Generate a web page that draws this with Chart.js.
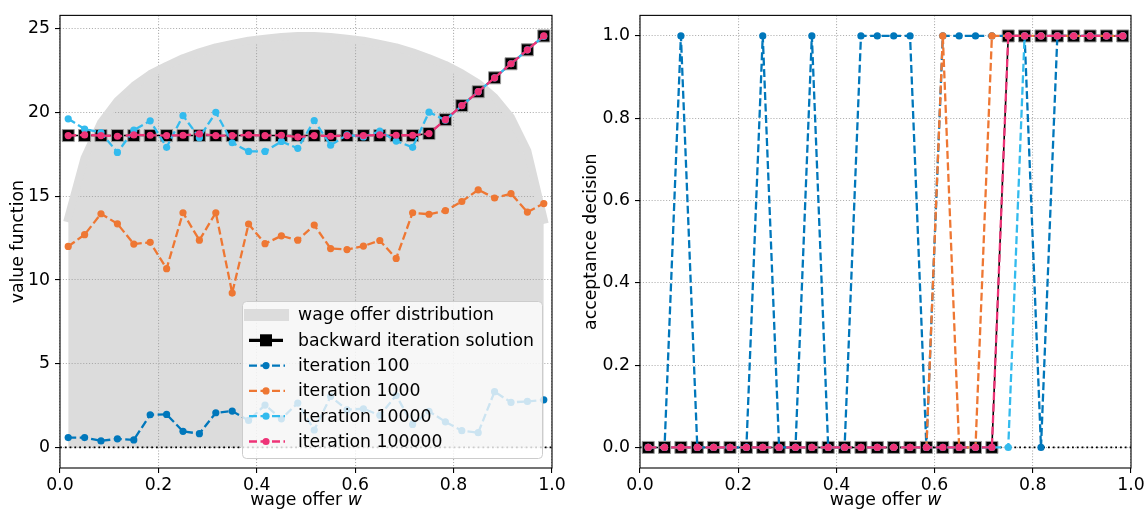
<!DOCTYPE html>
<html>
<head>
<meta charset="utf-8">
<script src="https://cdn.jsdelivr.net/npm/chart.js@4.4.1/dist/chart.umd.min.js"></script>
<style>
  body { margin: 0; background: #fff; }
  .panel { position: absolute; top: 0; width: 574px; height: 514px; }
</style>
</head>
<body>
<div class="panel" style="left:0"><canvas id="chart-value" width="574" height="514"></canvas></div>
<div class="panel" style="left:574px"><canvas id="chart-accept" width="574" height="514"></canvas></div>
<script>
// wage grid (30 offers)
const wageGrid = [0.0167, 0.05, 0.0833, 0.1167, 0.15, 0.1833, 0.2167, 0.25, 0.2833, 0.3167,
  0.35, 0.3833, 0.4167, 0.45, 0.4833, 0.5167, 0.55, 0.5833, 0.6167, 0.65,
  0.6833, 0.7167, 0.75, 0.7833, 0.8167, 0.85, 0.8833, 0.9167, 0.95, 0.9833];

// wage offer distribution, scaled to the value axis
const offerDist = [13.7, 17.3, 19.4, 20.7, 21.6, 22.3, 22.8, 23.25, 23.6, 23.9,
  24.1, 24.3, 24.42, 24.52, 24.58, 24.58, 24.52, 24.42, 24.3, 24.1,
  23.9, 23.6, 23.25, 22.85, 22.35, 21.75, 20.9, 19.7, 17.7, 13.6];

// value function
const valueBackward = [18.63, 18.63, 18.63, 18.63, 18.63, 18.63, 18.63, 18.63, 18.63, 18.63,
  18.63, 18.63, 18.63, 18.63, 18.63, 18.63, 18.63, 18.63, 18.63, 18.63,
  18.63, 18.63, 18.75, 19.58, 20.42, 21.25, 22.08, 22.92, 23.75, 24.58];
const valueIter100 = [0.59, 0.59, 0.39, 0.51, 0.45, 1.95, 1.97, 0.96, 0.82, 2.07,
  2.17, 1.61, 2.53, 1.71, 2.65, 1.04, 3.04, 2.25, 2.31, 1.92,
  3.10, 1.37, 2.16, 1.53, 1.00, 0.88, 3.33, 2.69, 2.75, 2.84];
const valueIter1000 = [12.01, 12.71, 13.96, 13.36, 12.15, 12.25, 10.68, 14.02, 12.38, 14.02,
  9.22, 13.34, 12.17, 12.64, 12.38, 13.28, 11.88, 11.82, 12.03, 12.36,
  11.29, 14.02, 13.93, 14.14, 14.69, 15.39, 14.90, 15.16, 14.06, 14.57];
const valueIter10000 = [19.63, 19.02, 18.81, 17.62, 18.96, 19.51, 17.93, 19.82, 18.50, 20.02,
  18.20, 17.68, 17.68, 18.28, 17.87, 19.53, 18.05, 18.67, 18.55, 18.89,
  18.30, 17.93, 20.03, 19.55, 20.42, 21.25, 22.08, 22.92, 23.75, 24.56];
const valueIter100000 = [18.63, 18.67, 18.63, 18.59, 18.67, 18.65, 18.63, 18.65, 18.73, 18.63,
  18.63, 18.67, 18.63, 18.65, 18.54, 18.63, 18.59, 18.63, 18.63, 18.67,
  18.65, 18.65, 18.75, 19.58, 20.42, 21.25, 22.08, 22.92, 23.75, 24.58];

// acceptance decision (0 = reject, 1 = accept)
const acceptBackward = [0, 0, 0, 0, 0, 0, 0, 0, 0, 0, 0, 0, 0, 0, 0, 0, 0, 0, 0, 0, 0, 0, 1, 1, 1, 1, 1, 1, 1, 1];
const acceptIter100 = [0, 0, 1, 0, 0, 0, 0, 1, 0, 0, 1, 0, 0, 1, 1, 1, 1, 0, 1, 1, 1, 1, 1, 1, 0, 1, 1, 1, 1, 1];
const acceptIter1000 = [0, 0, 0, 0, 0, 0, 0, 0, 0, 0, 0, 0, 0, 0, 0, 0, 0, 0, 1, 0, 0, 1, 1, 1, 1, 1, 1, 1, 1, 1];
const acceptIter10000 = [0, 0, 0, 0, 0, 0, 0, 0, 0, 0, 0, 0, 0, 0, 0, 0, 0, 0, 0, 0, 0, 0, 0, 1, 1, 1, 1, 1, 1, 1];
const acceptIter100000 = [0, 0, 0, 0, 0, 0, 0, 0, 0, 0, 0, 0, 0, 0, 0, 0, 0, 0, 0, 0, 0, 0, 1, 1, 1, 1, 1, 1, 1, 1];

const xTicks = [0, 0.2, 0.4, 0.6, 0.8, 1.0];
const seriesLabels = ['wage offer distribution', 'backward iteration solution',
  'iteration 100', 'iteration 1000', 'iteration 10000', 'iteration 100000'];

const FONT = 'DejaVu Sans';
const FS = 17.3;
const DIST_GRAY = '#dcdcdc';
const COLORS = { it100: '#0077bb', it1000: '#ee7733', it10000: '#33bbee', it100000: '#ee3377' };
const DASH = [8, 3.5];

Chart.defaults.font.family = FONT;
Chart.defaults.font.size = FS;
Chart.defaults.color = '#000';

const pts = (ys) => wageGrid.map((x, i) => ({ x, y: ys[i] }));

function iterDataset(label, ys, color, order) {
  return {
    label, data: pts(ys), order,
    borderColor: color, borderWidth: 2.3, borderDash: DASH,
    pointRadius: 3.6, pointBackgroundColor: color, pointBorderWidth: 0,
    pointHoverRadius: 3.6, tension: 0, fill: false
  };
}

function backwardDataset(ys) {
  return {
    label: seriesLabels[1], data: pts(ys), order: 4,
    borderColor: '#000', borderWidth: 1.6,
    pointStyle: 'rect', pointRadius: 8.5, pointHoverRadius: 8.5,
    pointBackgroundColor: '#000', pointBorderColor: '#9a9a9a', pointBorderWidth: 1,
    tension: 0, fill: false
  };
}

function zeroLine() {
  return {
    label: 'zero', data: [{ x: 0, y: 0 }, { x: 1, y: 0 }], order: 5,
    borderColor: '#000', borderWidth: 1.8, borderDash: [1.8, 3], pointRadius: 0, fill: false
  };
}

function xScale() {
  return {
    type: 'linear', min: 0, max: 1,
    afterBuildTicks: s => { s.ticks = xTicks.map(v => ({ value: v })); },
    afterFit: s => { s.height = 46; },
    ticks: { callback: v => v.toFixed(1), padding: 2, maxRotation: 0, color: '#000' },
    grid: { color: '#b0b0b0', lineWidth: 1.1, tickLength: 5, tickColor: '#000', tickWidth: 1.1, tickBorderDash: [] },
    border: { display: false, dash: [1.1, 1.8] }
  };
}

function yScale(min, max, step, fmt, leftWidth, title, titlePad) {
  return {
    type: 'linear', min, max,
    afterFit: s => { s.width = leftWidth; },
    ticks: { stepSize: step, includeBounds: false, callback: fmt, padding: 5, color: '#000' },
    grid: { color: '#b0b0b0', lineWidth: 1.1, tickLength: 5, tickColor: '#000', tickWidth: 1.1, tickBorderDash: [] },
    border: { display: false, dash: [1.1, 1.8] },
    title: { display: true, text: title, padding: { top: titlePad, bottom: 0 }, font: { size: FS } }
  };
}

const frame = {
  id: 'frame',
  afterDatasetsDraw(chart) {
    const { ctx, chartArea: a } = chart;
    ctx.save();
    ctx.strokeStyle = '#000';
    ctx.lineWidth = 1.1;
    ctx.strokeRect(a.left, a.top, a.right - a.left, a.bottom - a.top);
    ctx.restore();
  }
};

const xLabel = {
  id: 'xLabel',
  afterDraw(chart) {
    const { ctx, chartArea: a } = chart;
    const plain = 'wage offer ', ital = 'w';
    ctx.save();
    ctx.fillStyle = '#000';
    ctx.textBaseline = 'middle';
    ctx.textAlign = 'left';
    ctx.font = FS + 'px "' + FONT + '"';
    const w1 = ctx.measureText(plain).width;
    ctx.font = 'italic ' + FS + 'px "' + FONT + '"';
    const w2 = ctx.measureText(ital).width;
    const x0 = (a.left + a.right) / 2 - (w1 + w2) / 2;
    const y = 501;
    ctx.font = FS + 'px "' + FONT + '"';
    ctx.fillText(plain, x0, y);
    ctx.font = 'italic ' + FS + 'px "' + FONT + '"';
    ctx.fillText(ital, x0 + w1, y);
    ctx.restore();
  }
};

// legend drawn inside the value-function axes
const legendBox = {
  id: 'legendBox',
  afterDraw(chart) {
    const { ctx } = chart;
    const box = { x: 242, y: 301, w: 300, h: 157 };
    ctx.save();
    ctx.beginPath();
    ctx.roundRect(box.x + 0.5, box.y + 0.5, box.w, box.h, 4);
    ctx.fillStyle = 'rgba(255,255,255,0.8)';
    ctx.fill();
    ctx.strokeStyle = '#cccccc';
    ctx.lineWidth = 1;
    ctx.stroke();

    const rowY = [315, 340.3, 365.6, 390.9, 416.2, 441.5];
    const hx0 = 249, hx1 = 283, hmid = 266, tx = 298;
    ctx.font = FS + 'px "' + FONT + '"';
    ctx.textBaseline = 'middle';
    ctx.textAlign = 'left';

    seriesLabels.forEach((label, i) => {
      const y = rowY[i];
      if (i === 0) {
        ctx.fillStyle = DIST_GRAY;
        ctx.fillRect(244, y - 6, 45, 12);
      } else if (i === 1) {
        ctx.strokeStyle = '#000';
        ctx.lineWidth = 3.3;
        ctx.setLineDash([]);
        ctx.beginPath(); ctx.moveTo(hx0, y); ctx.lineTo(hx1, y); ctx.stroke();
        ctx.fillStyle = '#000';
        ctx.fillRect(hmid - 6, y - 6, 12, 12);
      } else {
        const color = [COLORS.it100, COLORS.it1000, COLORS.it10000, COLORS.it100000][i - 2];
        ctx.strokeStyle = color;
        ctx.lineWidth = 2.3;
        ctx.setLineDash(DASH);
        ctx.beginPath(); ctx.moveTo(hx0, y); ctx.lineTo(hx1 + 2, y); ctx.stroke();
        ctx.setLineDash([]);
        ctx.fillStyle = color;
        ctx.beginPath(); ctx.arc(hmid, y, 3.6, 0, Math.PI * 2); ctx.fill();
      }
      ctx.fillStyle = '#000';
      ctx.fillText(label, tx, y + 1);
    });
    ctx.restore();
  }
};

new Chart(document.getElementById('chart-value'), {
  type: 'line',
  data: {
    datasets: [
      iterDataset(seriesLabels[5], valueIter100000, COLORS.it100000, 0),
      iterDataset(seriesLabels[4], valueIter10000, COLORS.it10000, 1),
      iterDataset(seriesLabels[3], valueIter1000, COLORS.it1000, 2),
      iterDataset(seriesLabels[2], valueIter100, COLORS.it100, 3),
      backwardDataset(valueBackward),
      zeroLine(),
      {
        label: seriesLabels[0], data: pts(offerDist), order: 6,
        borderColor: DIST_GRAY, borderWidth: 8, borderCapStyle: 'square', borderJoinStyle: 'round',
        backgroundColor: 'rgba(160,160,160,0.37)', fill: 'origin', pointRadius: 0, tension: 0
      }
    ]
  },
  options: {
    responsive: false, animation: false, devicePixelRatio: 1,
    layout: { padding: { top: 6, right: 22, left: 0, bottom: 0 } },
    plugins: { legend: { display: false }, tooltip: { enabled: false } },
    scales: {
      x: xScale(),
      y: yScale(-1.23, 25.81, 5, v => String(v), 60, 'value function', 8)
    }
  },
  plugins: [frame, xLabel, legendBox]
});

new Chart(document.getElementById('chart-accept'), {
  type: 'line',
  data: {
    datasets: [
      iterDataset(seriesLabels[5], acceptIter100000, COLORS.it100000, 0),
      iterDataset(seriesLabels[4], acceptIter10000, COLORS.it10000, 1),
      iterDataset(seriesLabels[3], acceptIter1000, COLORS.it1000, 2),
      iterDataset(seriesLabels[2], acceptIter100, COLORS.it100, 3),
      backwardDataset(acceptBackward),
      zeroLine()
    ]
  },
  options: {
    responsive: false, animation: false, devicePixelRatio: 1,
    layout: { padding: { top: 6, right: 17, left: 0, bottom: 0 } },
    plugins: { legend: { display: false }, tooltip: { enabled: false } },
    scales: {
      x: xScale(),
      y: yScale(-0.05, 1.05, 0.2, v => v.toFixed(1), 66, 'acceptance decision', 7)
    }
  },
  plugins: [frame, xLabel]
});
</script>
</body>
</html>
